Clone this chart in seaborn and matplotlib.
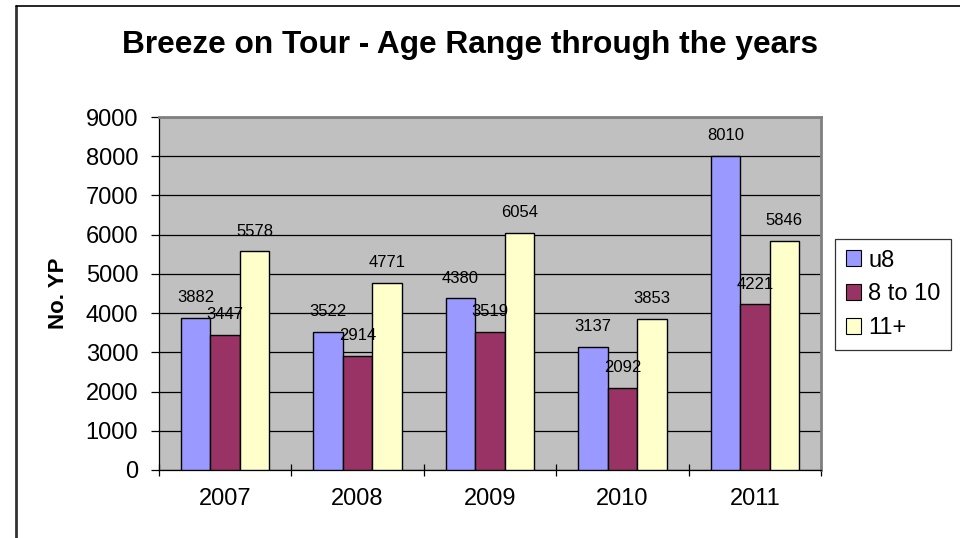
import matplotlib
matplotlib.use("Agg")
import matplotlib.pyplot as plt
import seaborn as sns
import pandas as pd

years = ["2007", "2008", "2009", "2010", "2011"]
groups = ["u8", "8 to 10", "11+"]
u8 = [3882, 3522, 4380, 3137, 8010]
age_8_10 = [3447, 2914, 3519, 2092, 4221]
age_11_plus = [5578, 4771, 6054, 3853, 5846]
y_ticks = [0, 1000, 2000, 3000, 4000, 5000, 6000, 7000, 8000, 9000]

colors = ["#9999FF", "#993366", "#FFFFCC"]

df = pd.DataFrame({
    "year": years * 3,
    "group": [g for g in groups for _ in years],
    "value": u8 + age_8_10 + age_11_plus,
})

sns.set_theme(style="white")
plt.rcParams["font.family"] = ["Liberation Sans", "DejaVu Sans"]
plt.rcParams["text.color"] = "black"
plt.rcParams["axes.labelcolor"] = "black"
plt.rcParams["xtick.color"] = "black"
plt.rcParams["ytick.color"] = "black"

fig = plt.figure(figsize=(9.6, 5.38), dpi=100)
ax = fig.add_axes([159 / 960, 68 / 538, 662 / 960, 353 / 538])
ax.set_facecolor("#C0C0C0")

sns.barplot(data=df, x="year", y="value", hue="group", order=years,
            hue_order=groups, palette=colors, width=0.668, gap=0,
            edgecolor="black", linewidth=1.0, saturation=1, ax=ax,
            legend=False, zorder=3)

ax.set_ylim(0, 9000)
ax.set_xlim(-0.5, len(years) - 0.5)
ax.set_yticks(y_ticks)
ax.yaxis.grid(True, color="black", linewidth=0.9, zorder=1)
ax.set_axisbelow(True)

for c in ax.containers:
    ax.bar_label(c, fmt="%d", padding=9, fontsize=12, color="black")

for side in ["top", "right"]:
    ax.spines[side].set_color("#808080")
    ax.spines[side].set_linewidth(2)
for side in ["left", "bottom"]:
    ax.spines[side].set_color("black")
    ax.spines[side].set_linewidth(0.9)

ax.tick_params(axis="y", which="major", length=6, width=0.9, color="black",
               direction="out", left=True, labelsize=17, pad=9)
ax.set_xticks([i - 0.5 for i in range(len(years) + 1)], minor=False)
ax.set_xticklabels([])
ax.set_xticks(range(len(years)), minor=True)
ax.set_xticklabels(years, minor=True)
ax.tick_params(axis="x", which="major", length=8, width=0.9, color="black",
               direction="inout", bottom=True)
ax.tick_params(axis="x", which="minor", length=0, labelsize=17, pad=13)

ax.set_xlabel("")
ax.set_ylabel("No. YP", fontsize=16, fontweight="bold", labelpad=12)

fig.text(470 / 960, 1 - 45 / 538, "Breeze on Tour - Age Range through the years",
         ha="center", va="center", fontsize=22.8, fontweight="bold")

handles = [plt.Rectangle((0, 0), 1, 1, facecolor=c, edgecolor="black", linewidth=0.8)
           for c in colors]
leg = fig.legend(handles, groups, loc="upper left",
                 bbox_to_anchor=(835 / 960, 1 - 239 / 538), fontsize=17,
                 frameon=True, fancybox=False, handlelength=0.65, handleheight=0.65,
                 handletextpad=0.3, borderpad=0.45, labelspacing=0.5,
                 borderaxespad=0)
leg.get_frame().set_edgecolor("black")
leg.get_frame().set_linewidth(0.9)

# outer chart frame
fig.add_artist(plt.Line2D([16 / 960, 16 / 960], [0, 1 - 6 / 538],
                          color="#333333", linewidth=2, transform=fig.transFigure))
fig.add_artist(plt.Line2D([16 / 960, 1], [1 - 6 / 538, 1 - 6 / 538],
                          color="black", linewidth=1.2, transform=fig.transFigure))

fig.savefig("out.png", dpi=100)
